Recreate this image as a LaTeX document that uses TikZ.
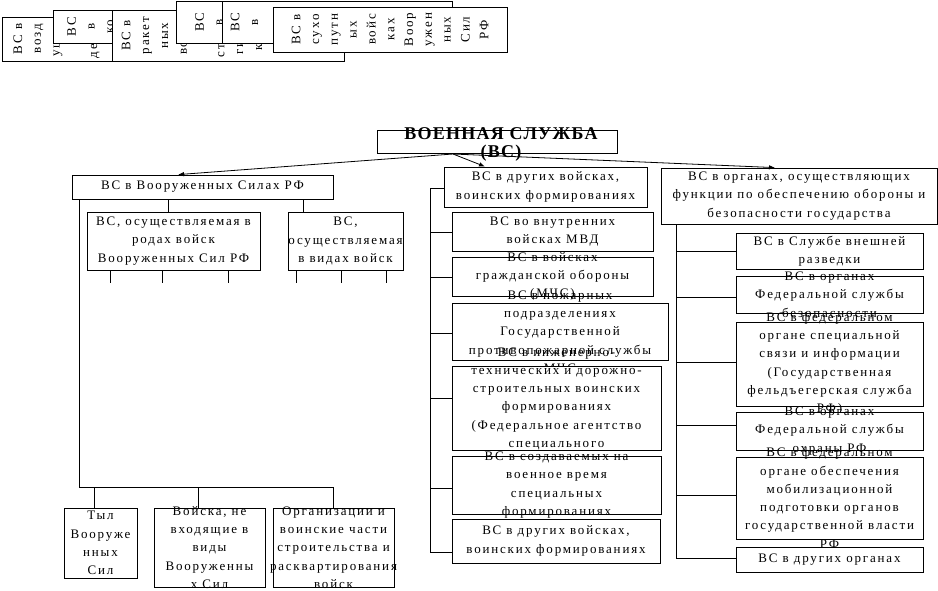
\documentclass[tikz,border=0pt]{standalone}
\usepackage{fontspec}
\newfontfamily\vsfont{Liberation Serif}[LetterSpace=14]
\newfontfamily\vshead{Liberation Serif}[LetterSpace=7]
\usetikzlibrary{arrows.meta, fit}

\begin{document}
\begin{tikzpicture}[
    x=1pt, y=-1pt,
    line width=0.8pt,
    cell/.style={
        draw,
        fill=white,
        inner sep=0pt
    },
    txt/.style={
        font=\vsfont\fontsize{13}{18.3}\selectfont,
        align=center,
        inner sep=0pt
    },
    vtxt/.style={
        txt,
        font=\vsfont\fontsize{13}{18.8}\selectfont,
        rotate=90
    },
    head/.style={
        font=\vshead\bfseries\fontsize{18}{18}\selectfont,
        align=center,
        inner sep=0pt
    },
    arr/.style={-{Latex[length=6pt, width=4.5pt]}}
]
\useasboundingbox (0,0) rectangle (938,590);

% Top strip (vertical text boxes)
\node[cell, fit={(2,17) (150,61)}] (air) {};
\node[vtxt] at (56.6,39) {ВС в\\возд\\ушно\\-\\десан};
\node[cell, fit={(53,10) (150,43)}] (space) {};
\node[vtxt] at (90.5,26.5) {ВС\\в\\ко};
\node[cell, fit={(112,10) (344,61)}] (rocket) {};
\node[vtxt] at (192,35.5) {ВС в\\ракет\\ных\\войск\\ах\\страте\\гичес\\кого};
\node[cell, fit={(176,1) (300,43)}] (avia) {};
\node[vtxt] at (209,22) {ВС\\в};
\node[cell, fit={(222,1) (452,43)}] (navy) {};
\node[vtxt] at (244.5,22) {ВС\\в};
\node[cell, fit={(273,7) (507,52)}] (land) {};
\node[vtxt] at (390,29.5) {ВС в\\сухо\\путн\\ых\\войс\\ках\\Воор\\ужен\\ных\\Сил\\РФ};

% Title
\node[cell, fit={(377,130) (617,153)}] (vs) {};
\node[head] at (501,144) {ВОЕННАЯ СЛУЖБА\\(ВС)};
\coordinate (fork) at (453,154);

% Armed forces (left)
\node[cell, fit={(72,175) (333,199)}] (armed) {};
\node[txt] at (armed) {ВС в Вооруженных Силах РФ};
\node[cell, fit={(87,212) (260,270)}] (rods) {};
\node[txt] at (rods) {ВС, осуществляемая в\\родах войск\\Вооруженных Сил РФ};
\node[cell, fit={(288,212) (403,270)}] (kinds) {};
\node[txt] at (kinds) {ВС,\\осуществляемая\\в видах войск};

\node[cell, fit={(64,508) (137,578)}] (rear) {};
\node[txt] at (rear) {Тыл\\Вооруже\\нных\\Сил};
\node[cell, fit={(154,508) (265,587)}] (notin) {};
\node[txt] at (notin) {Войска, не\\входящие в\\виды\\Вооруженны\\х Сил};
\node[cell, fit={(273,508) (394,587)}] (org) {};
\node[txt] at (org) {Организации и\\воинские части\\строительства и\\расквартирования\\войск};

\draw (armed.south -| 168,0) -- (rods.north -| 168,0);
\draw (armed.south -| 303,0) -- (kinds.north -| 303,0);
\foreach \x in {110, 162, 228}
    \draw (rods.south -| \x,0) -- (\x,283);
\foreach \x in {296, 341, 386}
    \draw (kinds.south -| \x,0) -- (\x,283);
\draw (armed.south -| 79,0) -- (79,487) -- (333,487);
\foreach \x/\b in {94/rear, 198/notin, 333/org}
    \draw (\x,487) -- (\b.north -| \x,0);

% Other troops (middle)
\node[cell, fit={(444,167) (647,207)}] (troops) {};
\node[txt] at (troops) {ВС в других войсках,\\воинских формированиях};
\node[cell, fit={(452,212) (653,251)}] (mvd) {};
\node[txt] at (mvd) {ВС во внутренних\\войсках МВД};
\node[cell, fit={(452,257) (653,296)}] (civil) {};
\node[txt] at (civil) {ВС в войсках\\гражданской обороны\\(МЧС)};
\node[cell, fit={(452,303) (668,360)}] (fire) {};
\node[txt] at (fire) {ВС в пожарных\\подразделениях\\Государственной\\противопожарной службы\\МЧС};
\node[cell, fit={(452,366) (661,450)}] (eng) {};
\node[txt] at (eng) {ВС в инженерно-\\технических и дорожно-\\строительных воинских\\формированиях\\(Федеральное агентство\\специального\\строительства)};
\node[cell, fit={(452,456) (661,514)}] (war) {};
\node[txt] at (war) {ВС в создаваемых на\\военное время\\специальных\\формированиях};
\node[cell, fit={(452,519) (660,563)}] (troopsb) {};
\node[txt] at (troopsb) {ВС в других войсках,\\воинских формированиях};

\draw (troops.west |- 0,188) -- (430,188) -- (430,552);
\foreach \b/\y in {mvd/232, civil/277, fire/333, eng/398, war/488, troopsb/552}
    \draw (430,\y) -- (\b.west |- 0,\y);

% Defence and security bodies (right)
\node[cell, fit={(661,168) (937,224)}] (organs) {};
\node[txt] at (organs) {ВС в органах, осуществляющих\\функции по обеспечению обороны  и\\безопасности государства};
\node[cell, fit={(736,233) (923,269)}] (svr) {};
\node[txt] at (svr) {ВС в Службе внешней\\разведки};
\node[cell, fit={(736,276) (923,313)}] (fsb) {};
\node[txt] at (fsb) {ВС в органах\\Федеральной службы\\безопасности};
\node[cell, fit={(736,322) (923,406)}] (courier) {};
\node[txt] at (courier) {ВС в федеральном\\органе специальной\\связи и информации\\(Государственная\\фельдъегерская служба\\РФ)};
\node[cell, fit={(736,412) (923,450)}] (fso) {};
\node[txt] at (fso) {ВС в органах\\Федеральной службы\\охраны РФ};
\node[cell, fit={(736,457) (923,539)}] (mob) {};
\node[txt] at (mob) {ВС в федеральном\\органе обеспечения\\мобилизационной\\подготовки органов\\государственной власти\\РФ};
\node[cell, fit={(736,547) (923,572)}] (organsb) {};
\node[txt] at (organsb) {ВС в других органах};

\draw (organs.south -| 676,0) -- (676,558);
\foreach \b/\y in {svr/251, fsb/297, courier/362, fso/425, mob/495, organsb/558}
    \draw (676,\y) -- (\b.west |- 0,\y);

% Arrows from the title
\draw[arr] (fork) -- (armed.north -| 178,0);
\draw[arr] (fork) -- (troops.north -| 485,0);
\draw[arr] (fork) -- (organs.north -| 775,0);

\end{tikzpicture}
\end{document}
